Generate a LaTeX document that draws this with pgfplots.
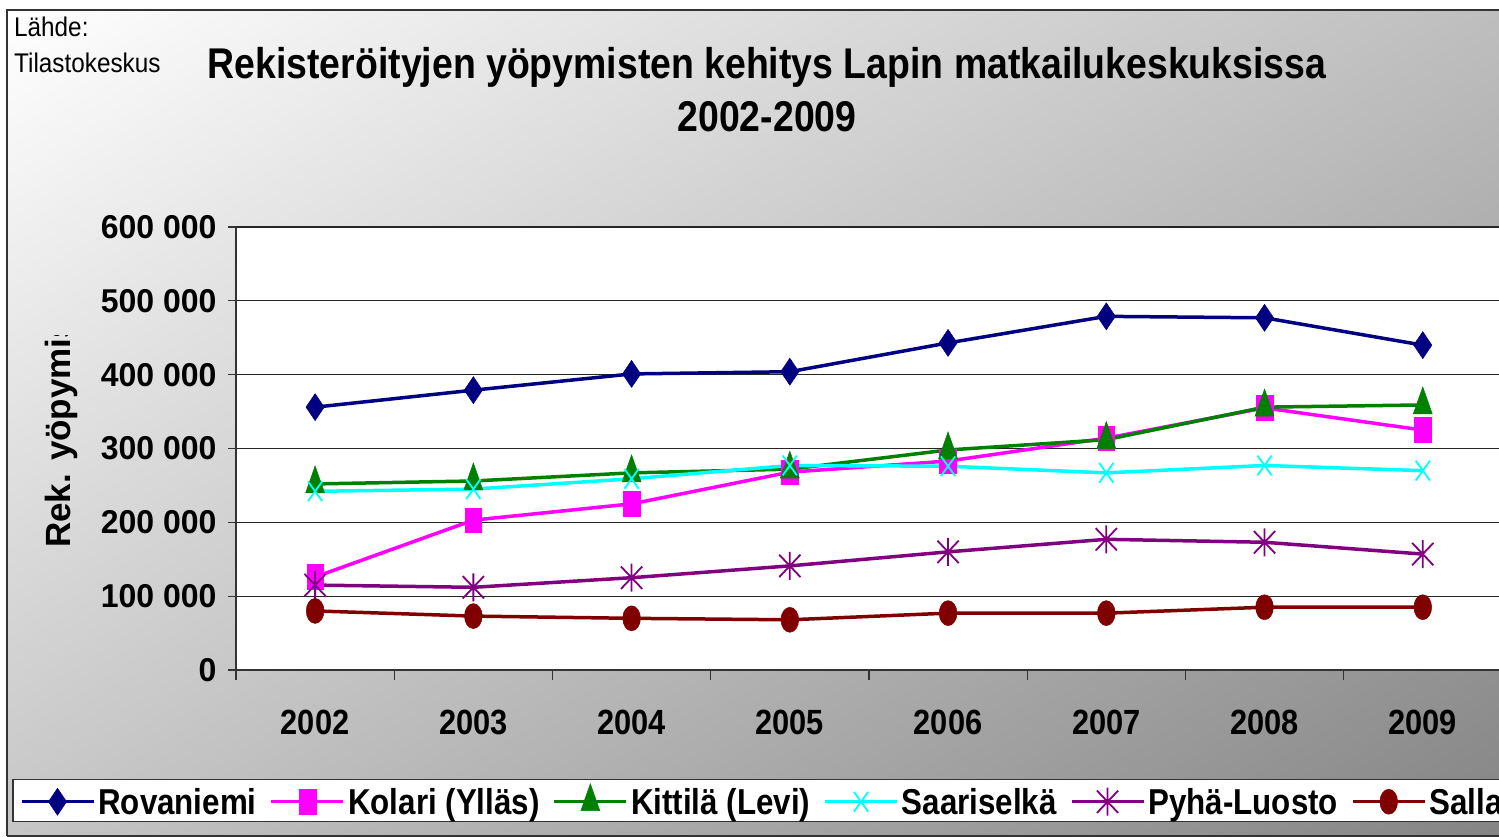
\documentclass[border=0pt]{standalone}
\usepackage{pgfplots}
\pgfplotsset{compat=1.18}
\usepackage{fontspec}
\setmainfont{Liberation Sans}
\newfontfamily\titlef{Liberation Sans}[FakeStretch=0.87]
\newfontfamily\smallf{Liberation Sans}[FakeStretch=0.9]
\newfontfamily\xtf{Liberation Sans}[FakeStretch=0.88]
\newfontfamily\ytf{Liberation Sans}[FakeStretch=0.97]
\definecolor{cRov}{HTML}{000080}
\definecolor{cKol}{HTML}{FF00FF}
\definecolor{cKit}{HTML}{008000}
\definecolor{cSaa}{HTML}{00FFFF}
\definecolor{cPyh}{HTML}{800080}
\definecolor{cSal}{HTML}{800000}
\pgfdeclareplotmark{vstar}{%
  \pgfpathmoveto{\pgfqpoint{0pt}{-\pgfplotmarksize}}%
  \pgfpathlineto{\pgfqpoint{0pt}{\pgfplotmarksize}}%
  \pgfpathmoveto{\pgfqpoint{-0.8\pgfplotmarksize}{-0.8\pgfplotmarksize}}%
  \pgfpathlineto{\pgfqpoint{0.8\pgfplotmarksize}{0.8\pgfplotmarksize}}%
  \pgfpathmoveto{\pgfqpoint{-0.8\pgfplotmarksize}{0.8\pgfplotmarksize}}%
  \pgfpathlineto{\pgfqpoint{0.8\pgfplotmarksize}{-0.8\pgfplotmarksize}}%
  \pgfusepathqstroke}
\begin{document}
\begin{tikzpicture}
\useasboundingbox (0,0) rectangle (1499bp,837bp);
\fill[white] (0,0) rectangle (1499bp,837bp);
\begin{scope}
\clip (7bp,1bp) rectangle (1499bp,827bp);
\begin{scope}[transform canvas={shift={(7bp,827bp)}, rotate=-57.8}]
\shade[overlay, left color=white, right color=black!48] (0bp,-2000bp) rectangle (1494bp,2000bp);
\end{scope}
\end{scope}
\draw[black!80, line width=1.5bp] (7bp,1bp) -- (7bp,827bp) -- (1499bp,827bp);
\draw[black!80, line width=1.5bp] (7bp,1bp) -- (1499bp,1bp);
% source note
\node[anchor=base west, inner sep=0pt, font=\smallf\fontsize{27bp}{30bp}\selectfont] at (14bp,800bp) {Lähde:};
\node[anchor=base west, inner sep=0pt, font=\smallf\fontsize{27bp}{30bp}\selectfont] at (14bp,764bp) {Tilastokeskus};
% title
\node[anchor=base, inner sep=0pt, font=\titlef\bfseries\fontsize{43bp}{48bp}\selectfont] at (767bp,758bp) {Rekisteröityjen yöpymisten kehitys Lapin matkailukeskuksissa};
\node[anchor=base, inner sep=0pt, font=\titlef\bfseries\fontsize{43bp}{48bp}\selectfont] at (767bp,705bp) {2002-2009};
% y label (clipped)
\begin{scope}
\clip (20bp,150bp) rectangle (100bp,501bp);
\node[anchor=base west, rotate=90, inner sep=0pt, font=\bfseries\fontsize{35bp}{40bp}\selectfont] at (70bp,289bp) {Rek. yöpymisten};
\end{scope}
\begin{scope}
\clip (0,0) rectangle (1499bp,837bp);
\begin{axis}[
  at={(236bp,167bp)}, anchor=south west,
  scale only axis, width=1266bp, height=443bp,
  xmin=-0.5, xmax=7.5, ymin=0, ymax=600000,
  axis lines*=left,
  axis line style={black!80, line width=1.5bp},
  axis background/.style={fill=white},
  ymajorgrids, major grid style={black!85, line width=1.2bp},
  ytick={0,100000,200000,300000,400000,500000,600000},
  yticklabels={0,100 000,200 000,300 000,400 000,500 000,600 000},
  scaled y ticks=false,
  xtick={0,1,2,3,4,5,6,7},
  xticklabels={2002,2003,2004,2005,2006,2007,2008,2009},
  minor xtick={-0.5,0.5,1.5,2.5,3.5,4.5,5.5,6.5,7.5},
  every major x tick/.style={draw=none},
  tick align=outside,
  major tick length=8bp, minor tick length=10bp,
  tick style={black!80, line width=1.2bp},
  xticklabel style={font=\xtf\bfseries\fontsize{35bp}{40bp}\selectfont, anchor=base, yshift=-56bp},
  yticklabel style={font=\ytf\bfseries\fontsize{33bp}{38bp}\selectfont, anchor=east, xshift=-8bp},
  legend style={at={(-0.17694,-0.24605)}, anchor=north west, draw=black!80, line width=1.5bp, fill=white,
     font=\titlef\bfseries\fontsize{36bp}{40bp}\selectfont, inner xsep=7bp, inner ysep=4bp,
     nodes={inner xsep=3bp, inner ysep=2bp},
     /tikz/every even column/.append style={column sep=10bp}},
  legend columns=6,
  legend image code/.code={\draw[mark repeat=2, mark phase=2, #1] plot coordinates {(0bp,0bp) (36bp,0bp) (72bp,0bp)};},
  every axis plot/.append style={line width=3.5bp},
]
\addplot[color=cRov, mark=diamond*, mark size=13.5bp, mark options={solid, fill=cRov, xscale=0.9, line width=0.5bp}]
  coordinates {(0,356000) (1,379000) (2,401000) (3,404000) (4,443000) (5,479000) (6,477000) (7,440000)};
\addlegendentry{Rovaniemi}
\addplot[color=cKol, mark=square*, mark size=12.3bp, mark options={solid, fill=cKol, xscale=0.68, line width=0.5bp}]
  coordinates {(0,126000) (1,203000) (2,225000) (3,268000) (4,283000) (5,314000) (6,355000) (7,325000)};
\addlegendentry{Kolari (Ylläs)}
\addplot[color=cKit, mark=triangle*, mark size=18bp, mark options={solid, fill=cKit, xscale=0.61, line width=0.5bp}]
  coordinates {(0,252000) (1,256000) (2,267000) (3,272000) (4,298000) (5,312000) (6,356000) (7,359000)};
\addlegendentry{Kittilä (Levi)}
\addplot[color=cSaa, mark=x, mark size=14bp, mark options={solid, xscale=0.72, line width=1.8bp}]
  coordinates {(0,242000) (1,245000) (2,259000) (3,277000) (4,276000) (5,267000) (6,277000) (7,270000)};
\addlegendentry{Saariselkä}
\addplot[color=cPyh, mark=vstar, mark size=14bp, mark options={solid, xscale=0.95, line width=1.8bp}]
  coordinates {(0,115000) (1,112000) (2,125000) (3,141000) (4,160000) (5,177000) (6,173000) (7,157000)};
\addlegendentry{Pyhä-Luosto}
\addplot[color=cSal, mark=*, mark size=12.5bp, mark options={solid, fill=cSal, xscale=0.71, line width=0.5bp}]
  coordinates {(0,80000) (1,73000) (2,70000) (3,68000) (4,77000) (5,77000) (6,85000) (7,85000)};
\addlegendentry{Salla}
\end{axis}
\end{scope}
\end{tikzpicture}
\end{document}
